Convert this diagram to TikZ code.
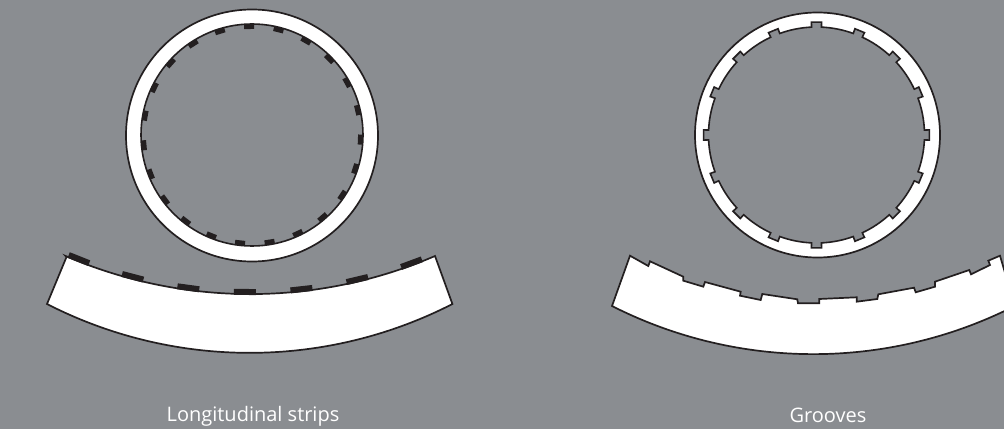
\documentclass[tikz,border=0pt]{standalone}
\usepackage{fontspec}
\setmainfont{Open Sans}
\usepackage{xcolor}
\definecolor{panelgray}{RGB}{138,141,145}
\definecolor{stripblack}{RGB}{35,31,32}
\begin{document}
\begin{tikzpicture}[x=1pt, y=1pt]
  \tikzstyle{panel} = [fill=panelgray, draw=none]
  \tikzstyle{wall} = [fill=white, draw=stripblack, line width=1.7pt, line join=miter]
  \tikzstyle{bore} = [fill=panelgray, draw=stripblack, line width=1.6pt, line join=miter]
  \tikzstyle{strip} = [fill=stripblack, draw=none]
  \tikzstyle{caption} = [anchor=base, text=white, font=\fontsize{20}{24}\selectfont, inner sep=0pt]

  % Background and page size
  \fill[panel] (0,0) rectangle (1004,429);
  \clip (0,0) rectangle (1004,429);

  % Longitudinal strips: ring
  \draw[wall] (252,293.5) circle (126);
  \draw[bore] (252,294) circle (111);
  \foreach \a in {0,...,22} {
    \fill[strip, shift={(252,294)}, rotate=1.5+15.652*\a] (-5,106) rectangle (5,111);
  }

  % Longitudinal strips: cut section
  \draw[wall] (66.5,172) -- (47,125) arc[start angle=242.9, end angle=297.1, radius=445] -- (435,173) arc[start angle=-66.7, end angle=-113.3, radius=467] -- cycle;
  \foreach \a in {-3,...,3} {
    \fill[strip, shift={(250.5,601)}, rotate=-0.7+7*\a] (-11,-467) rectangle (11,-461);
  }

  % Grooves: ring
  \draw[wall] (817.5,294) circle (122.5);
  \draw[bore, shift={(816.5,294)}] (87.4:108)
    \foreach \a in {90,112.5,...,427.5} {
      -- (\a-2.6:108) -- (\a-2.6:113) -- (\a+2.6:113) -- (\a+2.6:108)
      arc[start angle=\a+2.6, end angle=\a+19.9, radius=108]
    } -- cycle;

  % Grooves: cut section
  \draw[wall] (630,173.3) -- (612,123) arc[start angle=243.1, end angle=296.9, radius=445] -- (1000,173.3)
    -- (988.3,168.3) -- (990,164) -- (971,154.7) -- (969.3,159) -- (935,147.3) -- (935,142.3)
    -- (915.7,136.7) -- (914,141.3) -- (878.3,134.7) -- (877.3,130) -- (856.7,127.3) -- (856.7,131.7)
    -- (819.3,130) -- (819.3,125.7) -- (798,125.7) -- (797.3,129.7) -- (762.3,135) -- (760.7,129)
    -- (740,133.3) -- (740.7,137.3) -- (705,147) -- (703.3,142.3) -- (683.3,148.3) -- (683.3,152.3)
    -- (650,167.7) -- (648.3,163) -- cycle;

  % Captions
  \node[caption] (strips) at (253,8) {Longitudinal strips};
  \node[caption] (grooves) at (828,7) {Grooves};
\end{tikzpicture}
\end{document}
